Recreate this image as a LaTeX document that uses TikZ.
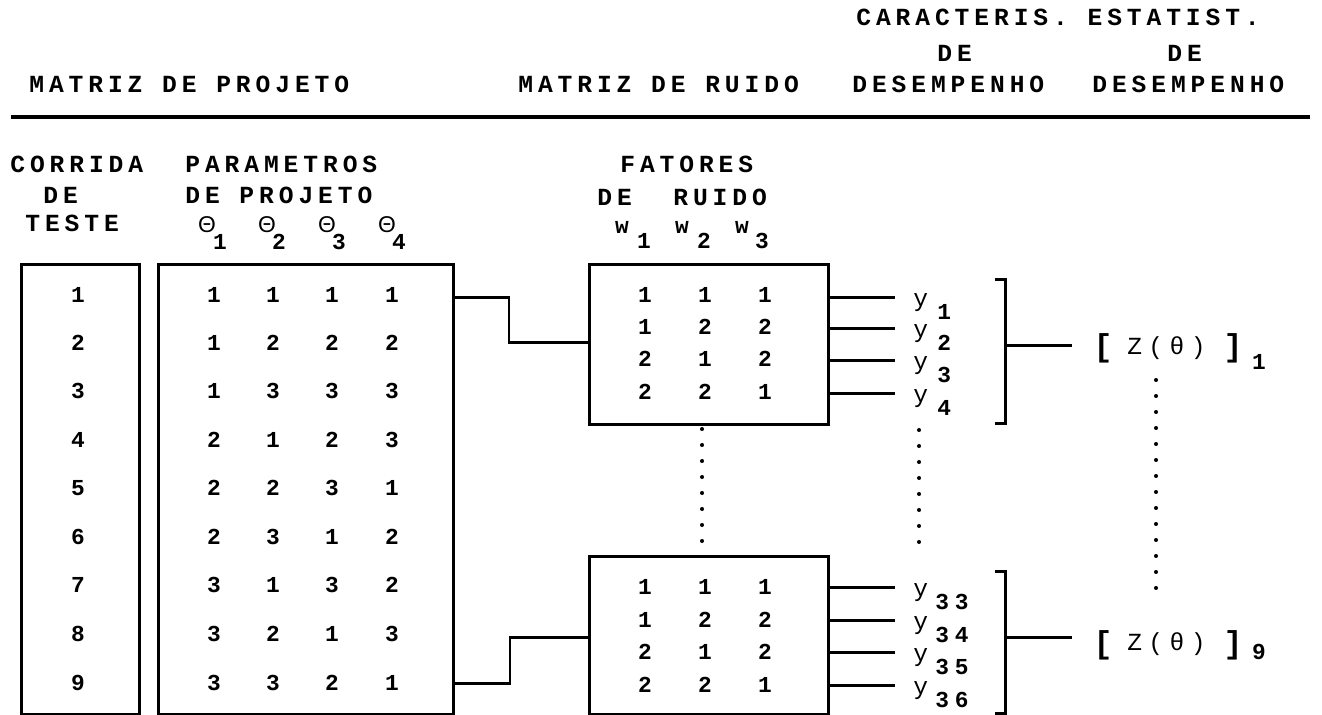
\documentclass[tikz,border=0pt]{standalone}
\usepackage{fontspec}
\newfontfamily\dotfam[LetterSpace=26]{Liberation Mono}
\newfontfamily\dotbfam[LetterSpace=26]{Liberation Mono Bold}
\newfontfamily\hdrfam[LetterSpace=20]{Liberation Mono Bold}
\newfontfamily\sansfam{Liberation Sans}
\newcommand\dotbf{\hdrfam\fontsize{14}{16}\selectfont}
\newcommand\dotnum{\dotbfam\fontsize{13}{15}\selectfont}
\newcommand\dotlt{\dotfam\fontsize{14}{16}\selectfont}
\newcommand\dotbig{\dotbfam\fontsize{18}{20}\selectfont}
\newcommand\ylab{\dotfam\fontsize{14}{16}\selectfont}
\newcommand\thfont{\sansfam\fontsize{13}{15}\selectfont}

\begin{document}
\begin{tikzpicture}[x=0.02cm, y=-0.02cm,
  every node/.style={inner sep=0pt, font=\dotnum},
  hdr/.style={anchor=west, font=\dotbf},
  box/.style={draw, line width=1.7pt, anchor=north west},
  wire/.style={line width=1.7pt},
  dots/.style={line width=2.3pt, line cap=round, dash pattern=on 0pt off 0.32cm}]
  \useasboundingbox (0,0) rectangle (1322,714);
  % Title row
  \node[hdr] (carac) at (856,17) {CARACTERIS. ESTATIST.};
  \node[hdr] (dea) at (937,53) {DE};
  \node[hdr] (deb) at (1167,53) {DE};
  \node[hdr] (mproj) at (29,84) {MATRIZ DE PROJETO};
  \node[hdr] (mruid) at (518,84) {MATRIZ DE RUIDO};
  \node[hdr] (desa) at (852,84) {DESEMPENHO};
  \node[hdr] (desb) at (1092,84) {DESEMPENHO};
  \coordinate (rulel) at (11,117);
  \coordinate (ruler) at (1310,117);
  \draw[line width=1.8pt] (rulel) -- (ruler);
  % Column heads
  \node[hdr] (corr) at (10,164) {CORRIDA};
  \node[hdr] (cde) at (43,195) {DE};
  \node[hdr] (test) at (25,223) {TESTE};
  \node[hdr] (par) at (185,164) {PARAMETROS};
  \node[hdr] (pde) at (185,195) {DE PROJETO};
  \node[font=\thfont] (th1) at (207,225) {Θ}; \node (th1s) at (220,242) {1};
  \node[font=\thfont] (th2) at (267,225) {Θ}; \node (th2s) at (279,242) {2};
  \node[font=\thfont] (th3) at (327,225) {Θ}; \node (th3s) at (339,242) {3};
  \node[font=\thfont] (th4) at (387,225) {Θ}; \node (th4s) at (399,242) {4};
  \node[hdr] (fat) at (620,164) {FATORES};
  \node[hdr] (fde) at (597,197) {DE};
  \node[hdr] (fru) at (673,197) {RUIDO};
  \node (w1) at (622,227) {w}; \node (w1s) at (644,241) {1};
  \node (w2) at (682,227) {w}; \node (w2s) at (704,241) {2};
  \node (w3) at (742,227) {w}; \node (w3s) at (762,241) {3};
  % Boxes
  \node[box, minimum width=2.36cm, minimum height=9cm] (runs) at (20,263) {};
  \node[box, minimum width=5.9cm, minimum height=9cm] (pb) at (157,263) {};
  \node[box, minimum width=4.78cm, minimum height=3.2cm] (na) at (588,263) {};
  \node[box, minimum width=4.78cm, minimum height=3.16cm] (nb) at (588,555) {};
  % Test runs and design matrix
  \node (r1) at (78,295) {1}; \node (p11) at (214,295) {1}; \node (p12) at (273,295) {1}; \node (p13) at (332,295) {1}; \node (p14) at (392,295) {1};
  \node (r2) at (78,343) {2}; \node (p21) at (214,343) {1}; \node (p22) at (273,343) {2}; \node (p23) at (332,343) {2}; \node (p24) at (392,343) {2};
  \node (r3) at (78,391) {3}; \node (p31) at (214,391) {1}; \node (p32) at (273,391) {3}; \node (p33) at (332,391) {3}; \node (p34) at (392,391) {3};
  \node (r4) at (78,440) {4}; \node (p41) at (214,440) {2}; \node (p42) at (273,440) {1}; \node (p43) at (332,440) {2}; \node (p44) at (392,440) {3};
  \node (r5) at (78,488) {5}; \node (p51) at (214,488) {2}; \node (p52) at (273,488) {2}; \node (p53) at (332,488) {3}; \node (p54) at (392,488) {1};
  \node (r6) at (78,537) {6}; \node (p61) at (214,537) {2}; \node (p62) at (273,537) {3}; \node (p63) at (332,537) {1}; \node (p64) at (392,537) {2};
  \node (r7) at (78,585) {7}; \node (p71) at (214,585) {3}; \node (p72) at (273,585) {1}; \node (p73) at (332,585) {3}; \node (p74) at (392,585) {2};
  \node (r8) at (78,634) {8}; \node (p81) at (214,634) {3}; \node (p82) at (273,634) {2}; \node (p83) at (332,634) {1}; \node (p84) at (392,634) {3};
  \node (r9) at (78,683) {9}; \node (p91) at (214,683) {3}; \node (p92) at (273,683) {3}; \node (p93) at (332,683) {2}; \node (p94) at (392,683) {1};
  % Noise matrix, first and last run
  \node (a11) at (645,295) {1}; \node (a12) at (705,295) {1}; \node (a13) at (765,295) {1};
  \node (a21) at (645,327) {1}; \node (a22) at (705,327) {2}; \node (a23) at (765,327) {2};
  \node (a31) at (645,359) {2}; \node (a32) at (705,359) {1}; \node (a33) at (765,359) {2};
  \node (a41) at (645,392) {2}; \node (a42) at (705,392) {2}; \node (a43) at (765,392) {1};
  \node (b11) at (645,587) {1}; \node (b12) at (705,587) {1}; \node (b13) at (765,587) {1};
  \node (b21) at (645,620) {1}; \node (b22) at (705,620) {2}; \node (b23) at (765,620) {2};
  \node (b31) at (645,652) {2}; \node (b32) at (705,652) {1}; \node (b33) at (765,652) {2};
  \node (b41) at (645,685) {2}; \node (b42) at (705,685) {2}; \node (b43) at (765,685) {1};
  % Links design -> noise
  \coordinate (ja) at (509,297); \coordinate (jb) at (509,342);
  \draw[wire] (ja -| pb.east) -- (ja) -- (jb) -- (jb -| na.west);
  \coordinate (jc) at (510,637); \coordinate (jd) at (510,683);
  \draw[wire] (jc -| nb.west) -- (jc) -- (jd) -- (jd -| pb.east);
  % Responses
  \coordinate (oa1) at (895,297); \coordinate (oa2) at (895,328);
  \coordinate (oa3) at (895,360); \coordinate (oa4) at (895,393);
  \draw[wire] (oa1 -| na.east) -- (oa1);
  \draw[wire] (oa2 -| na.east) -- (oa2);
  \draw[wire] (oa3 -| na.east) -- (oa3);
  \draw[wire] (oa4 -| na.east) -- (oa4);
  \node[font=\ylab, anchor=base west] (ya1) at (913,306) {y}; \node[anchor=west] (ya1s) at (937,312) {1};
  \node[font=\ylab, anchor=base west] (ya2) at (913,337) {y}; \node[anchor=west] (ya2s) at (937,343) {2};
  \node[font=\ylab, anchor=base west] (ya3) at (913,369) {y}; \node[anchor=west] (ya3s) at (937,375) {3};
  \node[font=\ylab, anchor=base west] (ya4) at (913,402) {y}; \node[anchor=west] (ya4s) at (937,408) {4};
  \coordinate (ob1) at (895,587); \coordinate (ob2) at (895,620);
  \coordinate (ob3) at (895,652); \coordinate (ob4) at (895,685);
  \draw[wire] (ob1 -| nb.east) -- (ob1);
  \draw[wire] (ob2 -| nb.east) -- (ob2);
  \draw[wire] (ob3 -| nb.east) -- (ob3);
  \draw[wire] (ob4 -| nb.east) -- (ob4);
  \node[font=\ylab, anchor=base west] (yb1) at (913,596) {y}; \node[anchor=west] (yb1s) at (935,602) {33};
  \node[font=\ylab, anchor=base west] (yb2) at (913,629) {y}; \node[anchor=west] (yb2s) at (935,635) {34};
  \node[font=\ylab, anchor=base west] (yb3) at (913,661) {y}; \node[anchor=west] (yb3s) at (935,667) {35};
  \node[font=\ylab, anchor=base west] (yb4) at (913,694) {y}; \node[anchor=west] (yb4s) at (935,700) {36};
  % Brackets and statistics
  \draw[wire] (995,279) -- (1005,279) -- (1005,423) -- (995,423);
  \draw[wire] (995,571) -- (1005,571) -- (1005,713) -- (995,713);
  \coordinate (ka) at (1005,345); \coordinate (kb) at (1005,637);
  \node[font=\dotbig] (lba) at (1103,348) {[};
  \node[font=\dotlt, anchor=west] (za) at (1127,348) {Z(θ)};
  \node[font=\dotbig] (rba) at (1233,348) {]};
  \node (zas) at (1259,362) {1};
  \node[font=\dotbig] (lbb) at (1103,645) {[};
  \node[font=\dotlt, anchor=west] (zb) at (1127,644) {Z(θ)};
  \node[font=\dotbig] (rbb) at (1233,645) {]};
  \node (zbs) at (1259,652) {9};
  \draw[wire] (ka) -- (ka -| {(1072,0)});
  \draw[wire] (kb) -- (kb -| {(1072,0)});
  % Ellipsis dots
  \draw[dots] (702,429) -- (702,545);
  \draw[dots] (919,430) -- (919,545);
  \draw[dots] (1156,380) -- (1156,592);
\end{tikzpicture}
\end{document}
